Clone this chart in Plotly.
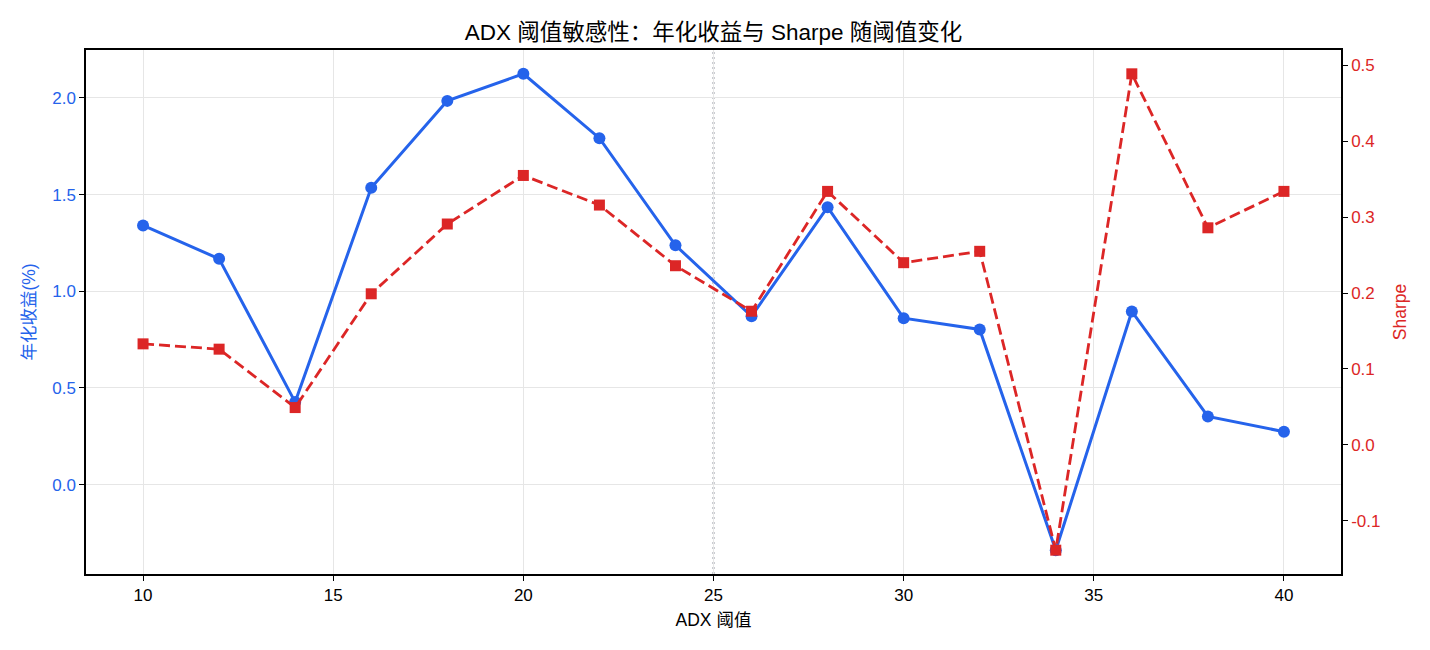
import plotly.graph_objects as go

# ---- data ----
thresholds = [10, 12, 14, 16, 18, 20, 22, 24, 26, 28, 30, 32, 34, 36, 38, 40]
annual_return = [1.341, 1.168, 0.427, 1.536, 1.985, 2.125, 1.792, 1.238,
                 0.871, 1.435, 0.861, 0.803, -0.339, 0.896, 0.353, 0.274]
sharpe = [0.133, 0.126, 0.049, 0.199, 0.291, 0.355, 0.316, 0.236,
          0.176, 0.334, 0.240, 0.255, -0.139, 0.489, 0.286, 0.334]
x_ticks = [10, 15, 20, 25, 30, 35, 40]
left_ticks = [0.0, 0.5, 1.0, 1.5, 2.0]
right_ticks = [-0.1, 0.0, 0.1, 0.2, 0.3, 0.4, 0.5]
default_threshold = 25

BLUE = "#2563eb"
RED = "#dc2626"
FONT = "Arial, 'Liberation Sans', 'Noto Sans CJK SC', sans-serif"


def padded(vals, frac=0.05):
    lo, hi = min(vals), max(vals)
    p = (hi - lo) * frac
    return [lo - p, hi + p]


fig = go.Figure()
fig.add_trace(go.Scatter(
    x=thresholds, y=annual_return, name="年化收益(%)",
    mode="lines+markers",
    line=dict(color=BLUE, width=3),
    marker=dict(color=BLUE, size=12, symbol="circle"),
    yaxis="y",
))
fig.add_trace(go.Scatter(
    x=thresholds, y=sharpe, name="Sharpe",
    mode="lines+markers",
    line=dict(color=RED, width=2.8, dash="11px,5px"),
    marker=dict(color=RED, size=11, symbol="square"),
    yaxis="y2",
))

fig.add_shape(type="line", xref="x", yref="paper",
              x0=default_threshold, x1=default_threshold, y0=0, y1=1,
              line=dict(color="#7d828e", width=1.8, dash="2px,3px"),
              layer="between")

fig.update_layout(
    width=1430, height=650,
    margin=dict(l=86, r=89, t=50, b=76),
    paper_bgcolor="white", plot_bgcolor="white",
    showlegend=False,
    font=dict(family=FONT, size=17, color="black"),
    title=dict(text="ADX 阈值敏感性：年化收益与 Sharpe 随阈值变化",
               x=0.5, xref="paper", xanchor="center",
               y=1 - 32 / 650, yref="container", yanchor="middle",
               font=dict(size=22.5, color="black", family=FONT)),
    xaxis=dict(
        range=padded(thresholds), tickvals=x_ticks,
        showgrid=True, gridcolor="#e6e6e6", gridwidth=1,
        showline=True, linecolor="black", linewidth=1.5, mirror=True,
        ticks="outside", ticklen=5, tickwidth=1.2, tickcolor="black",
        tickfont=dict(size=17, color="black"),
        zeroline=False,
        title=dict(text="ADX 阈值", font=dict(size=17.5, color="black"), standoff=10),
    ),
    yaxis=dict(
        range=padded(annual_return), tickvals=left_ticks,
        ticktext=[f"{v:.1f}" for v in left_ticks],
        showgrid=True, gridcolor="#e6e6e6", gridwidth=1,
        showline=True, linecolor="black", linewidth=1.5,
        ticks="outside", ticklen=5, tickwidth=1.2, tickcolor="black",
        tickfont=dict(size=17, color=BLUE),
        zeroline=False,
        title=dict(text="年化收益(%)", font=dict(size=17.5, color=BLUE), standoff=12),
    ),
    yaxis2=dict(
        overlaying="y", side="right",
        range=padded(sharpe), tickvals=right_ticks,
        ticktext=[f"{v:.1f}" for v in right_ticks],
        showgrid=False,
        showline=True, linecolor="black", linewidth=1.5,
        ticks="outside", ticklen=5, tickwidth=1.2, tickcolor="black",
        tickfont=dict(size=17, color=RED),
        zeroline=False,
        title=dict(text="Sharpe", font=dict(size=17.5, color=RED), standoff=14),
    ),
)

fig.write_html("out.html")
